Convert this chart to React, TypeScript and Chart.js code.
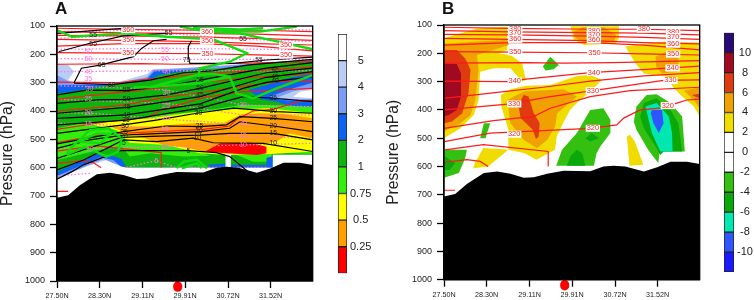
import React, { useEffect, useRef } from "react";
import { Chart, registerables } from "chart.js";

Chart.register(...registerables);

type Pts = number[][];
type Lbl = [number, number, string];

const xTicks = [27.5, 28.3, 29.11, 29.91, 30.72, 31.52];
const latMax = 32.31;

const terrain: Pts = [[27.5,706],[27.71,697],[27.93,662],[28.25,623],[28.5,618],[28.75,626],[29.0,640],[29.19,638],[29.44,626],[29.75,615],[30.25,617],[30.5,600],[30.69,597],[30.91,600],[31.26,618],[31.51,603],[31.76,583],[32.07,583],[32.31,591],[32.31,1000],[27.5,1000]];
const stationMark: Pts = [[29.77, 1017],[29.77, 1022]];
const stationTip: Pts = [[29.77, 1004],[29.77, 1012]];

// potential temperature contours, shared by both panels
const theta1: Pts = [[27.5,108],[28.75,112],[30.25,115],[31.26,115],[32.31,120]];
const theta2: Pts = [[27.5,120],[28.75,124],[30.25,127],[31.26,129],[32.31,135]];
const theta3: Pts = [[27.5,133],[28.75,135],[30.25,139],[31.26,144],[32.31,151]];
const theta4: Pts = [[27.5,147],[28.75,151],[30.25,155],[31.26,162],[32.31,167]];
const theta5: Pts = [[27.5,171],[28.75,162],[30.25,162],[31.26,171],[32.31,188]];
const theta6: Pts = [[27.5,194],[28.75,196],[30.25,198],[31.26,202],[32.31,206]];
const theta7: Pts = [[27.5,235],[29.09,233],[29.73,235],[30.68,233],[32.31,226]];
const theta8: Pts = [[27.5,298],[28.69,300],[29.0,292],[30.25,268],[31.63,253],[32.31,245]];
const theta9: Pts = [[27.5,359],[28.5,338],[29.37,320],[30.25,298],[31.26,280],[32.31,268]];
const theta10: Pts = [[27.5,400],[28.75,379],[29.5,353],[30.3,332],[31.63,296],[32.31,294]];
const theta11: Pts = [[27.5,465],[28.43,438],[29.19,423],[29.5,394],[30.25,353],[31.0,332],[32.31,320]];
const theta12: Pts = [[27.5,512],[28.37,482],[30.25,465],[30.75,453],[30.88,429],[31.19,400],[31.57,394],[31.88,376],[32.07,365],[32.31,362]];
const theta13: Pts = [[27.52,541],[28.24,523],[29.46,547],[29.46,600]];
const theta14: Pts = [[27.52,585],[27.93,576],[28.18,582],[28.33,600]];
const theta15: Pts = [[27.5,684],[27.71,684]];
const thetaLines = [theta1,theta2,theta3,theta4,theta5,theta6,theta7,theta8,theta9,theta10,theta11,theta12,theta13,theta14,theta15];
const thetaLabelsA: Lbl[] = [[28.84,151,"350"],[30.32,153,"350"],[31.81,168,"350"],[28.84,195,"350"],[30.33,198,"350"],[31.81,203,"350"],[28.84,113,"360"],[30.32,120,"360"]];
const thetaLabelsB: Lbl[] = [[28.84,113,"380"],[28.84,129,"370"],[28.84,151,"360"],[30.32,120,"380"],[30.32,135,"370"],[30.32,153,"360"],[31.26,115,"380"],[31.81,124,"380"],[31.81,141,"370"],[31.81,168,"360"],[31.81,203,"350"],[31.8,252,"340"],[31.76,296,"330"],[28.84,195,"350"],[30.33,198,"350"],[28.83,298,"340"],[30.32,268,"340"],[30.3,332,"330"],[28.82,379,"330"],[28.82,486,"320"],[30.3,465,"320"],[31.71,385,"320"]];

// Panel A filled regions
const aLightBlue: Pts = [[27.5,232],[27.71,238],[27.82,261],[27.71,291],[27.84,302],[28.31,302],[28.69,296],[29.19,269],[29.31,252],[29.94,249],[30.5,243],[31.07,232],[32.31,218],[32.31,599],[28.81,599],[28.62,590],[28.43,573],[28.06,596],[27.68,626],[27.5,640]];
const aPeriwinkle: Pts = [[27.5,273],[27.78,302],[28.56,304],[29.19,281],[29.31,255],[32.31,220],[32.31,599],[28.78,599],[28.59,585],[28.37,570],[27.5,637]];
const aBlue: Pts = [[27.5,308],[27.84,308],[28.56,307],[29.19,288],[29.34,258],[30.5,252],[31.07,238],[32.31,222],[32.31,599],[28.72,599],[28.56,573],[28.31,563],[27.5,629]];
const aGreen: Pts = [[27.5,338],[27.78,332],[28.25,316],[28.56,307],[29.19,293],[29.44,273],[30.19,252],[30.82,249],[31.32,232],[32.31,222],[32.31,599],[28.81,599],[28.72,570],[28.59,561],[28.25,552],[27.5,614]];
const aBlueRight: Pts = [[31.1,326],[31.44,308],[31.82,285],[32.31,267],[32.31,385],[31.95,387],[31.63,367],[31.35,359]];
const aPeriRight: Pts = [[31.5,349],[31.95,320],[32.31,300],[32.31,365],[31.95,365],[31.7,360]];
const aLightRight: Pts = [[31.65,352],[31.95,330],[32.31,318],[32.31,358],[31.95,358]];
const aWhiteRight: Pts = [[31.95,349],[32.07,332],[32.31,326],[32.31,355],[31.95,350]];
const aBright: Pts = [[27.5,461],[28.12,438],[28.94,429],[29.37,414],[30.19,402],[30.94,379],[31.44,379],[32.31,385],[32.31,552],[28.62,526],[28.31,537],[27.5,573]];
const aBrightLow: Pts = [[28.72,526],[29.5,520],[30.25,549],[30.38,558],[29.88,561],[29.25,549],[28.87,561]];
const aBrightRight: Pts = [[30.88,555],[31.54,552],[31.54,579],[31.19,579]];
const aYellow: Pts = [[28.12,446],[28.5,438],[29.25,426],[30,406],[30.82,394],[31.51,390],[32.31,408],[32.31,543],[31.54,552],[30.69,555],[30.19,549],[29.56,520],[28.87,512],[28.62,467]];
const aOrange: Pts = [[28.5,455],[29.25,455],[30.06,443],[30.63,443],[30.94,414],[31.26,408],[31.76,410],[32.31,426],[32.31,496],[31.88,479],[31.63,508],[31.44,514],[30.57,514],[30.28,543],[29.88,528],[29.5,520],[29.06,490],[28.84,479]];
const aRed: Pts = [[30.28,543],[30.57,514],[31.13,512],[31.44,526],[31.44,549],[31.26,555],[30.69,549]];
const aBlueStrip1: Pts = [[30.35,590],[30.67,585],[30.67,600],[30.35,600]];
const aBlueStrip2: Pts = [[30.77,590],[31.44,590],[31.44,600],[30.77,600]];
const aBlueStrip3: Pts = [[31.44,565],[31.56,560],[31.56,600],[31.44,600]];
const aGap: Pts = [[30.67,552],[30.77,552],[30.77,602],[30.67,602]];
const aBlankRight: Pts = [[31.56,554],[32.31,554],[32.31,604],[31.56,604]];
const aBlankLow: Pts = [[27.5,640],[28.06,598],[28.43,575],[28.62,592],[28.81,600],[32.31,600],[32.31,700],[27.5,700]];

// Panel A contours
const k1: Pts = [[27.53,191],[28.12,161],[28.75,135],[29.56,126]];
const k2: Pts = [[27.5,126],[27.94,120],[28.75,108]];
const k3: Pts = [[27.82,300],[27.96,249],[28.31,238],[28.94,208],[29.09,179],[29.31,152],[29.56,147]];
const k4: Pts = [[30.03,152],[29.97,173],[29.97,208],[30,232],[30.82,232],[31.44,220],[32.31,210]];
const b60: Pts = [[27.82,302],[28.53,307],[29.25,291],[29.88,265],[30.44,258],[31.07,238],[32.31,218]];
const b55: Pts = [[27.5,343],[28.06,326],[28.81,328],[29.56,312],[30.19,291],[31.44,249],[32.31,229]];
const b50: Pts = [[27.5,373],[28.25,361],[28.81,359],[29.56,343],[30.19,320],[31.44,265],[32.31,249]];
const b45: Pts = [[27.5,408],[28.81,387],[29.56,367],[30.19,349],[31.44,281],[32.31,261]];
const b40: Pts = [[27.5,426],[28.81,414],[30.19,375],[31,320],[31.44,299],[32.31,279]];
const b35: Pts = [[27.5,449],[28.81,432],[30.19,390],[31,349],[31.57,355],[32.31,367]];
const b30: Pts = [[27.5,479],[28.75,449],[29.37,432],[30.13,408],[30.82,390],[31.63,402],[32.31,408]];
const b25: Pts = [[27.5,516],[28.75,473],[29.56,453],[30.19,455],[30.69,449],[30.94,420],[31.57,426],[32.31,438]];
const b20: Pts = [[27.5,532],[28.12,502],[28.75,485],[30.19,473],[30.75,461],[30.94,438],[31.57,453],[32.31,473]];
const b15: Pts = [[27.5,567],[28.72,493],[29.56,488],[30.19,485],[30.75,479],[31.57,479],[32.31,502]];
const b10: Pts = [[27.5,608],[28.0,573],[28.75,502],[29.37,508],[30.06,496],[30.44,512],[31.38,514],[32.31,543]];
const b5: Pts = [[27.5,641],[27.78,614],[28,590],[28.69,540],[29.97,540],[30.5,547],[30.75,561],[31.13,620]];
const blackLines = [k1,k2,k3,k4,b60,b55,b50,b45,b40,b35,b30,b25,b20,b15,b10,b5];
const blackLabels: Lbl[] = [[31.3,220,"55"],[31.6,261,"50"],[31.6,281,"45"],[31.6,296,"40"],[31.57,355,"35"],[31.57,402,"30"],[31.57,426,"25"],[31.57,453,"20"],[31.57,479,"15"],[31.57,514,"10"],[30.19,291,"55"],[30.19,320,"50"],[30.19,343,"45"],[30.19,385,"35"],[30.16,408,"30"],[30.18,453,"25"],[30.17,470,"20"],[30.14,481,"15"],[30.14,496,"10"],[29.97,540,"5"],[28.81,328,"55"],[28.81,359,"50"],[28.81,385,"45"],[28.81,414,"40"],[28.8,432,"35"],[28.78,453,"30"],[28.76,473,"25"],[28.76,488,"20"],[28.76,512,"5"],[28.53,307,"60"],[28.34,238,"65"],[29.94,222,"75"],[28.18,163,"55"],[28.18,132,"55"],[31,147,"55"],[29.6,126,"55"]];

const m1: Pts = [[27.5,120],[29.56,114],[32.31,114]];
const m2: Pts = [[27.5,144],[29.56,126],[31,147],[32.31,155]];
const m3: Pts = [[27.5,182],[29.56,179],[32.31,184]];
const m4: Pts = [[27.5,215],[29.56,218],[32.31,218]];
const m5: Pts = [[27.5,261],[29.56,258],[32.31,258]];
const m30: Pts = [[27.5,311],[28.12,314],[29.57,326],[31,379],[32.31,385]];
const m25: Pts = [[27.5,359],[29.57,373],[31,414],[32.31,414]];
const m20: Pts = [[27.5,406],[28.12,408],[29.57,429],[31,447],[32.31,453]];
const m15: Pts = [[27.5,443],[28.12,446],[29.57,465],[31,490],[32.31,496]];
const m10: Pts = [[27.5,535],[28.12,532],[29.57,526],[31,520],[32.31,514]];
const m5b: Pts = [[28.81,599],[29.37,575],[29.72,599],[31.44,599]];
const m5c: Pts = [[27.5,629],[28.12,620]];
const pinkLines = [m1,m2,m3,m4,m5,m30,m25,m20,m15,m10,m5b,m5c];
const pinkLabels: Lbl[] = [[28.09,191,"50"],[28.09,218,"50"],[29.53,218,"50"],[29.53,185,"55"],[28.09,261,"40"],[28.09,287,"35"],[28.11,322,"30"],[29.56,261,"40"],[29.56,335,"30"],[28.09,359,"25"],[29.55,382,"25"],[28.09,406,"20"],[29.55,426,"20"],[28.09,446,"15"],[29.53,465,"15"],[28.12,535,"10"],[29.53,526,"10"],[31,379,"30"],[31,443,"20"],[31,485,"15"],[31,520,"10"],[29.37,575,"5"]];

const g1: Pts = [[27.5,114],[27.78,138],[28.75,126],[29.56,138],[30.44,147],[31.07,196],[30.75,226],[30.19,249],[30.13,302],[30.75,279],[30.88,338],[31.19,355],[31.63,320],[32.31,273]];
const g2: Pts = [[29.81,102],[30.32,120],[30.94,126],[31.51,149],[32.31,182]];
const g3: Pts = [[30.06,105],[30.44,114],[30.82,120],[31.32,120],[32.01,102]];
const g3b: Pts = [[30.19,108],[30.44,109],[30.94,112],[31.38,108]];
const g4: Pts = [[28.94,316],[29.25,316],[30.13,273],[30.44,269],[30.75,279]];
const g5: Pts = [[29.25,316],[30.13,302]];
const g6: Pts = [[27.68,555],[27.75,532],[28.12,467],[28.47,461],[28.72,496],[28.65,543],[28.43,561],[28.03,526],[27.75,549],[27.68,555]];
const g7: Pts = [[27.9,508],[28.25,479],[28.5,481],[28.31,514],[27.9,508]];
const g8: Pts = [[29.75,602],[29.88,579],[30.13,571],[30.32,602]];
const g9: Pts = [[29.85,602],[30.13,585],[30.22,602]];
const greenLines = [g1,g2,g3,g3b,g4,g5,g6,g7,g8,g9];

// Panel B filled regions
const bYellowLeft: Pts = [[27.5,147],[28.12,112],[28.69,106],[28.69,188],[28.53,200],[28.75,206],[28.97,235],[29.04,294],[28.97,300],[28.75,253],[28.43,253],[28.18,265],[28.15,365],[28.06,418],[27.81,465],[27.5,500]];
const bYellowMain: Pts = [[28.57,347],[28.75,327],[29.04,315],[29.5,312],[30.0,280],[30.25,276],[30.47,294],[30.25,335],[30.0,376],[29.87,400],[29.74,447],[29.62,494],[29.59,541],[29.24,576],[29.02,553],[28.71,541],[28.71,470],[28.58,388]];
const bYellowLow: Pts = [[28.24,535],[28.62,539],[28.71,541],[28.33,600],[28.05,606],[28.08,588]];
const bOrangeLeft: Pts = [[27.5,165],[28.06,159],[28.69,153],[28.72,171],[28.12,206],[28.15,259],[28.09,365],[28.0,418],[27.81,447],[27.5,476]];
const bRedLeft: Pts = [[27.5,188],[27.74,188],[27.9,218],[28.0,259],[27.96,341],[27.84,412],[27.65,441],[27.5,447]];
const bMaroonLeft: Pts = [[27.5,235],[27.74,238],[27.82,271],[27.82,353],[27.74,400],[27.59,418],[27.5,423]];
const bOrangeMid: Pts = [[28.69,365],[29.0,335],[29.75,327],[30.0,353],[29.63,412],[29.59,459],[29.44,506],[29.25,535],[29.0,506],[28.75,447]];
const bRedMid: Pts = [[28.9,382],[29.0,347],[29.09,353],[29.19,412],[29.3,447],[29.28,494],[29.23,503],[29.17,470],[28.94,429]];
const bYellowTop: Pts = [[29.88,104],[30.79,104],[30.79,147],[30.72,165],[30.13,171],[29.94,151]];
const bOrangeTop: Pts = [[29.94,124],[30.1,108],[30.5,108],[30.74,135],[30.7,159],[30.38,165],[30.13,162],[29.97,145]];
const bYellowRight: Pts = [[30.91,176],[31.26,167],[31.63,159],[32.31,162],[32.31,423],[32.2,388],[31.98,353],[31.82,323],[31.69,282],[31.26,271],[31.1,235]];
const bOrangeRight: Pts = [[31.48,212],[31.69,194],[31.91,218],[31.91,265],[31.6,271],[31.49,247]];
const bOrangeEdge: Pts = [[32.01,332],[32.31,320],[32.31,394],[32.2,365]];
const bRedEdge: Pts = [[32.16,347],[32.31,343],[32.31,360]];
const bYellowStrip: Pts = [[30.94,494],[31.0,488],[31.09,512],[31.25,594],[30.99,597]];
const bGreenTop: Pts = [[29.36,247],[29.5,212],[29.66,241],[29.56,256],[29.41,261]];
const bGreenSmall: Pts = [[28.25,447],[28.37,447],[28.28,500],[28.18,500]];
const bGreenMid: Pts = [[29.61,597],[29.72,541],[30.0,482],[30.25,400],[30.5,394],[30.63,435],[30.63,482],[30.44,529],[30.37,553],[30.32,597]];
const bDarkMid: Pts = [[29.81,597],[29.88,564],[30.0,541],[30.1,553],[30.16,597]];
const bDarkSpot: Pts = [[30.16,500],[30.28,482],[30.41,500],[30.25,512]];
const bGreenRight: Pts = [[31.07,441],[31.12,388],[31.31,347],[31.5,345],[31.76,376],[31.98,423],[32.03,547],[31.56,547],[31.53,588],[31.34,541],[31.12,470]];
const bDarkRight: Pts = [[31.19,423],[31.26,376],[31.5,359],[31.76,400],[31.91,447],[31.98,547],[31.63,547],[31.57,559],[31.48,529],[31.26,465]];
const bTurquoise: Pts = [[31.29,388],[31.5,376],[31.73,423],[31.79,482],[31.8,547],[31.57,547],[31.41,482]];
const bBlueCore: Pts = [[31.41,400],[31.6,400],[31.63,447],[31.54,482],[31.44,447],[31.39,412]];
const bGreenLeft: Pts = [[27.5,541],[27.93,541],[27.9,570],[27.78,623],[27.5,640]];
const bDarkLeft: Pts = [[27.52,565],[27.71,588],[27.61,612],[27.5,612]];

// colour bars
const barA = ["#ff0000", "#ffa000", "#ffff00", "#33ee0c", "#0cb40c", "#0e62f0", "#7b9cf5", "#b9cdf5", "#ffffff"];
const barATicks = ["", "0.25", "0.5", "0.75", "1", "2", "3", "4", "5", ""];
const barB = ["#1a1aff", "#2f55ff", "#00e8b0", "#0aa80a", "#33c010", "#ffffff", "#ffffff", "#f0dc00", "#f0a000", "#e03a10", "#a00a20", "#2a0a78"];
const barBTicks = ["", "-10", "-8", "-6", "-4", "-2", "0", "2", "4", "6", "8", "10", ""];

const FONT = "'Liberation Sans', Arial, sans-serif";
const shape = (d: Pts, color: string) => ({ data: d.map(([x, y]) => ({ x, y })), borderWidth: 0, borderColor: color, backgroundColor: color, fill: "shape", pointRadius: 0, tension: 0 });
const line = (d: Pts, color: string, w: number, dash: number[] = [], tension = 0) => ({ data: d.map(([x, y]) => ({ x, y })), borderWidth: w, borderColor: color, borderDash: dash, fill: false, pointRadius: 0, tension });

function panelOptions(boxW: number, rightPad: number, topPad: number, xBox: number) {
  return {
    responsive: false,
    animation: false,
    layout: { padding: { left: 0, right: rightPad, top: topPad, bottom: 0 } },
    plugins: { legend: { display: false }, tooltip: { enabled: false } },
    scales: {
      x: {
        type: "linear", min: 27.5, max: latMax,
        afterBuildTicks: (s: any) => { s.ticks = xTicks.map((value) => ({ value })); },
        afterFit: (s: any) => { s.height = xBox; },
        grid: { drawOnChartArea: false, tickLength: 7, color: "#000", tickWidth: 1.3 },
        border: { color: "#000", width: 1.3 },
        ticks: { autoSkip: false, maxRotation: 0, padding: 4, color: "#222", font: { family: FONT, size: 7.2 }, callback: (v: any) => Number(v).toFixed(2) + "N" },
      },
      y: {
        reverse: true, min: 100, max: 1000,
        afterFit: (s: any) => { s.width = boxW; },
        grid: { drawOnChartArea: false, tickLength: 7, color: "#000", tickWidth: 1.3 },
        border: { color: "#000", width: 1.3 },
        title: { display: true, text: "Pressure (hPa)", color: "#222", padding: 0, font: { family: FONT, size: 15.6, lineHeight: 1 } },
        ticks: { stepSize: 100, padding: 5, color: "#222", font: { family: FONT, size: 9 }, callback: (v: any) => String(v) },
      },
    },
  };
}

const labelPlugin = (groups: { items: Lbl[]; color: string; size: number; box: boolean }[]) => ({
  id: "contourLabels",
  afterDatasetsDraw(chart: any) {
    const { ctx, scales, chartArea: a } = chart;
    ctx.save();
    ctx.textAlign = "center";
    ctx.textBaseline = "middle";
    for (const g of groups) {
      ctx.font = `${g.size}px ${FONT}`;
      for (const [lat, p, t] of g.items) {
        const x = scales.x.getPixelForValue(lat);
        const y = scales.y.getPixelForValue(p);
        if (g.box) {
          const w = ctx.measureText(t).width + 2;
          ctx.fillStyle = "#fff";
          ctx.fillRect(x - w / 2, y - 3.5, w, 7);
        }
        ctx.fillStyle = g.color;
        ctx.fillText(t, x, y);
      }
    }
    ctx.strokeStyle = "#000";
    ctx.lineWidth = 1.3;
    ctx.strokeRect(a.left, a.top, a.width, a.height);
    ctx.restore();
  },
});

const markDatasets = () => [
  { ...line(stationTip, "#ff0000", 3), borderCapStyle: "round", clip: false },
  { ...line(stationMark, "#ff0000", 9), borderCapStyle: "round", clip: false },
];

function panelA() {
  const red = "#ff1a1a";
  const ds: any[] = [
    shape(aLightBlue, barA[7]), shape(aPeriwinkle, barA[6]), shape(aBlue, barA[5]), shape(aGreen, barA[4]),
    shape(aBlueRight, barA[5]), shape(aPeriRight, barA[6]), shape(aLightRight, barA[7]), shape(aWhiteRight, "#fff"),
    shape(aBright, barA[3]), shape(aBrightLow, barA[3]), shape(aBrightRight, barA[3]),
    shape(aBlueStrip1, barA[5]), shape(aBlueStrip2, barA[5]), shape(aBlueStrip3, barA[5]),
    shape(aYellow, barA[2]), shape(aOrange, barA[1]), shape(aRed, barA[0]),
    shape(aGap, "#fff"), shape(aBlankRight, "#fff"), shape(aBlankLow, "#fff"),
    ...pinkLines.map((l) => line(l, "#ff77dd", 1.3, [1.5, 2])),
    ...thetaLines.map((l) => line(l, red, 1.2)),
    ...blackLines.map((l) => line(l, "#000", 1.2)),
    ...greenLines.map((l) => line(l, "#10dc10", 2.4)),
    shape(terrain, "#000"),
    ...markDatasets(),
  ];
  return ds.reverse();
}

function panelB() {
  const red = "#ff1a1a";
  const y = barB[7], o = barB[8], r = barB[9], m = barB[10];
  const g = barB[4], d = barB[3], t = barB[2], b = barB[1];
  const ds: any[] = [
    shape(bYellowLeft, y), shape(bYellowMain, y), shape(bYellowLow, y), shape(bYellowTop, y), shape(bYellowRight, y), shape(bYellowStrip, y),
    shape(bOrangeLeft, o), shape(bOrangeMid, o), shape(bOrangeTop, o), shape(bOrangeRight, o), shape(bOrangeEdge, o),
    shape(bRedLeft, r), shape(bRedMid, r), shape(bRedEdge, r), shape(bMaroonLeft, m),
    shape(bGreenTop, g), shape(bGreenSmall, g), shape(bGreenMid, g), shape(bDarkMid, d), shape(bDarkSpot, d),
    shape(bGreenRight, g), shape(bDarkRight, d), shape(bTurquoise, t), shape(bBlueCore, b),
    shape(bGreenLeft, g), shape(bDarkLeft, d),
    ...thetaLines.map((l) => line(l, red, 1.2)),
    shape(terrain, "#000"),
    ...markDatasets(),
  ];
  return ds.reverse();
}

function colorBar(colors: string[], labels: string[]) {
  return {
    type: "bar",
    data: {
      labels: [""],
      datasets: colors.map((c) => ({ data: [1], backgroundColor: c, borderColor: "#222", borderWidth: 1, borderSkipped: false, barPercentage: 1, categoryPercentage: 1 })),
    },
    options: {
      responsive: false,
      animation: false,
      plugins: { legend: { display: false }, tooltip: { enabled: false } },
      scales: {
        x: { stacked: true, display: false },
        y: {
          stacked: true, position: "right", min: 0, max: colors.length,
          afterFit: (s: any) => { s.width = 30; },
          grid: { display: false, drawTicks: false }, border: { display: false },
          ticks: { stepSize: 1, autoSkip: false, padding: 3, color: "#222", crossAlign: "center", font: { family: FONT, size: 11 }, callback: (v: any) => labels[v] ?? "" },
        },
      },
    },
  };
}

const useChart = (cfg: () => any) => {
  const ref = useRef<HTMLCanvasElement>(null);
  useEffect(() => {
    const c = new Chart(ref.current as HTMLCanvasElement, cfg());
    return () => c.destroy();
  }, []);
  return ref;
};

const abs = (left: number, top: number): React.CSSProperties => ({ position: "absolute", left, top });

export default function App() {
  useEffect(() => { document.body.style.margin = "0"; }, []);
  const a = useChart(() => ({
    type: "line",
    data: { datasets: panelA() },
    options: panelOptions(57, 7.3, 26, 19),
    plugins: [labelPlugin([
      { items: pinkLabels, color: "#ff77dd", size: 7, box: false },
      { items: thetaLabelsA, color: "#ff1a1a", size: 7.2, box: true },
      { items: blackLabels, color: "#222", size: 6.8, box: false },
    ])],
  }));
  const b = useChart(() => ({
    type: "line",
    data: { datasets: panelB() },
    options: panelOptions(58, 10.3, 25, 20.3),
    plugins: [labelPlugin([{ items: thetaLabelsB, color: "#ff1a1a", size: 7.4, box: true }])],
  }));
  const ca = useChart(() => {
    const c: any = colorBar(barA, barATicks);
    c.options.layout = { padding: { left: 8, right: 13, top: 34, bottom: 26.7 } };
    return c;
  });
  const cb = useChart(() => {
    const c: any = colorBar(barB, barBTicks);
    c.options.layout = { padding: { left: 4, right: 0, top: 32.7, bottom: 28 } };
    return c;
  });
  const letter: React.CSSProperties = { fontFamily: FONT, fontWeight: 700, fontSize: 17, lineHeight: "17px", color: "#111" };
  return (
    <div style={{ position: "fixed", left: 0, top: 0, width: 754, height: 300, background: "#fff", overflow: "hidden" }}>
      <canvas ref={a} width={320} height={300} style={abs(0, 0)} />
      <canvas ref={b} width={324} height={300} style={abs(386, 0)} />
      <canvas ref={ca} width={60} height={300} style={abs(330, 0)} />
      <canvas ref={cb} width={44} height={300} style={abs(720, 0)} />
      <div style={{ ...abs(55, 0), ...letter }}>A</div>
      <div style={{ ...abs(442, 0), ...letter }}>B</div>
    </div>
  );
}
